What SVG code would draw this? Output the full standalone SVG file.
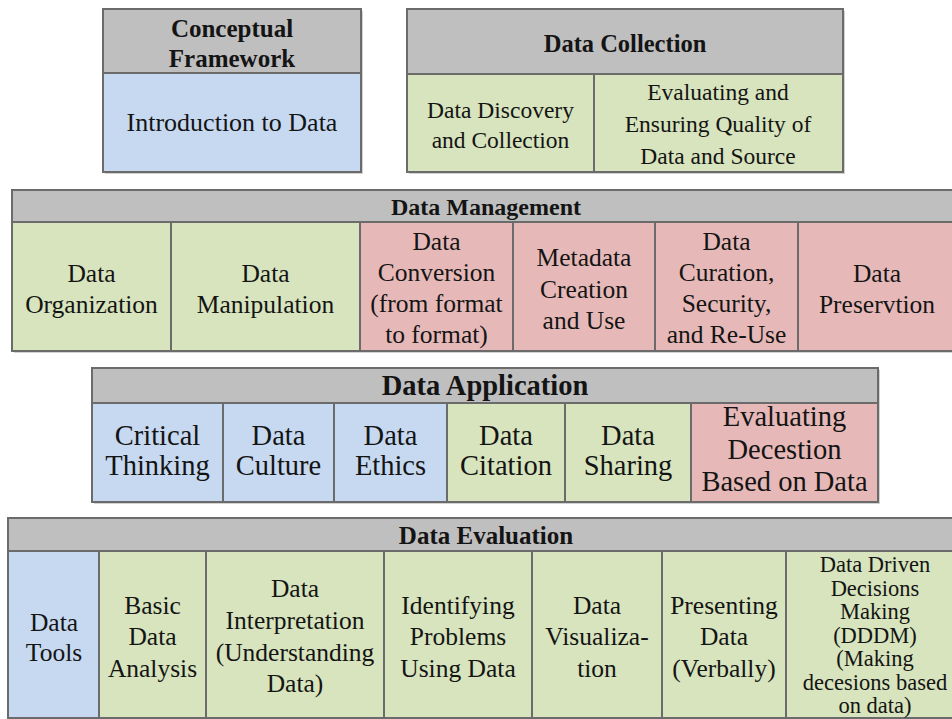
<svg xmlns="http://www.w3.org/2000/svg" width="952" height="719" viewBox="0 0 952 719">
<style>
.c{stroke:#6b6b6b;stroke-width:2}
.g{fill:#bfbfbf}.b{fill:#c6d9f1}.gr{fill:#d7e4bd}.p{fill:#e6b9b8}
.sh{fill:#d2d2d2}
text{font-family:'Liberation Serif', 'Times New Roman', serif;fill:#141414;text-anchor:middle}
.hb{font-weight:bold}
.t25{font-size:25.5px}
</style>
<rect width="952" height="719" fill="#ffffff"/>
<g id="shadows">
<rect class="sh" x="105" y="11" width="258" height="163"/>
<rect class="sh" x="409" y="11" width="436" height="163"/>
<rect class="sh" x="14" y="192" width="950" height="161"/>
<rect class="sh" x="94" y="370" width="786" height="134"/>
</g>
<g id="conceptual-framework">
<rect class="c g" x="103" y="9" width="258" height="64"/>
<text class="hb" font-size="25" x="232"><tspan x="232" y="37">Conceptual</tspan><tspan x="232" y="67">Framework</tspan></text>
</g>
<g id="introduction-to-data">
<rect class="c b" x="103" y="73" width="258" height="99"/>
<text font-size="26" x="232" y="131">Introduction to Data</text>
</g>
<g id="data-collection">
<rect class="c g" x="407" y="9" width="436" height="65"/>
<text class="hb" font-size="24.5" x="625" y="52">Data Collection</text>
</g>
<g id="data-discovery">
<rect class="c gr" x="407" y="74" width="187" height="98"/>
<text font-size="23.5"><tspan x="500.5" y="118">Data Discovery</tspan><tspan x="500.5" y="148">and Collection</tspan></text>
</g>
<g id="evaluating-quality">
<rect class="c gr" x="594" y="74" width="249" height="98"/>
<text font-size="23.5"><tspan x="718" y="100">Evaluating and</tspan><tspan x="718" y="132">Ensuring Quality of</tspan><tspan x="718" y="164">Data and Source</tspan></text>
</g>
<g id="data-management">
<rect class="c g" x="12" y="190" width="950" height="32"/>
<text class="hb" font-size="24" x="486" y="215">Data Management</text>
</g>
<g id="data-organization">
<rect class="c gr" x="12" y="222" width="159" height="129"/>
<text class="t25"><tspan x="91.5" y="282">Data</tspan><tspan x="91.5" y="313">Organization</tspan></text>
</g>
<g id="data-manipulation">
<rect class="c gr" x="171" y="222" width="189" height="129"/>
<text class="t25"><tspan x="265.5" y="282">Data</tspan><tspan x="265.5" y="313">Manipulation</tspan></text>
</g>
<g id="data-conversion">
<rect class="c p" x="360" y="222" width="153" height="129"/>
<text class="t25"><tspan x="436.5" y="250">Data</tspan><tspan x="436.5" y="281">Conversion</tspan><tspan x="436.5" y="312">(from format</tspan><tspan x="436.5" y="343">to format)</tspan></text>
</g>
<g id="metadata">
<rect class="c p" x="513" y="222" width="142" height="129"/>
<text class="t25"><tspan x="584" y="266">Metadata</tspan><tspan x="584" y="298">Creation</tspan><tspan x="584" y="329">and Use</tspan></text>
</g>
<g id="data-curation">
<rect class="c p" x="655" y="222" width="143" height="129"/>
<text class="t25"><tspan x="726.5" y="250">Data</tspan><tspan x="726.5" y="281">Curation,</tspan><tspan x="726.5" y="312">Security,</tspan><tspan x="726.5" y="343">and Re-Use</tspan></text>
</g>
<g id="data-preservation">
<rect class="c p" x="798" y="222" width="164" height="129"/>
<text class="t25"><tspan x="877" y="282">Data</tspan><tspan x="877" y="313">Preservtion</tspan></text>
</g>
<g id="data-application">
<rect class="c g" x="92" y="368" width="786" height="35"/>
<text class="hb" font-size="28.5" x="485" y="395">Data Application</text>
</g>
<g id="critical-thinking">
<rect class="c b" x="92" y="403" width="131" height="99"/>
<text font-size="28.5"><tspan x="157.5" y="445">Critical</tspan><tspan x="157.5" y="475">Thinking</tspan></text>
</g>
<g id="data-culture">
<rect class="c b" x="223" y="403" width="111" height="99"/>
<text font-size="28.5"><tspan x="278.5" y="445">Data</tspan><tspan x="278.5" y="475">Culture</tspan></text>
</g>
<g id="data-ethics">
<rect class="c b" x="334" y="403" width="113" height="99"/>
<text font-size="28.5"><tspan x="390.5" y="445">Data</tspan><tspan x="390.5" y="475">Ethics</tspan></text>
</g>
<g id="data-citation">
<rect class="c gr" x="447" y="403" width="118" height="99"/>
<text font-size="28.5"><tspan x="506" y="445">Data</tspan><tspan x="506" y="475">Citation</tspan></text>
</g>
<g id="data-sharing">
<rect class="c gr" x="565" y="403" width="126" height="99"/>
<text font-size="28.5"><tspan x="628" y="445">Data</tspan><tspan x="628" y="475">Sharing</tspan></text>
</g>
<g id="evaluating-decestion">
<rect class="c p" x="691" y="403" width="187" height="99"/>
<text font-size="28.5"><tspan x="784.5" y="426">Evaluating</tspan><tspan x="784.5" y="459">Decestion</tspan><tspan x="784.5" y="491">Based on Data</tspan></text>
</g>
<g id="data-evaluation">
<rect class="c g" x="8" y="518" width="960" height="33"/>
<text class="hb" font-size="25" x="486" y="544">Data Evaluation</text>
</g>
<g id="data-tools">
<rect class="c b" x="8" y="551" width="91" height="167"/>
<text class="t25"><tspan x="54" y="631">Data</tspan><tspan x="54" y="661">Tools</tspan></text>
</g>
<g id="basic-data-analysis">
<rect class="c gr" x="99" y="551" width="107" height="167"/>
<text class="t25"><tspan x="152.5" y="614">Basic</tspan><tspan x="152.5" y="645">Data</tspan><tspan x="152.5" y="677">Analysis</tspan></text>
</g>
<g id="data-interpretation">
<rect class="c gr" x="206" y="551" width="178" height="167"/>
<text class="t25"><tspan x="295" y="597">Data</tspan><tspan x="295" y="629">Interpretation</tspan><tspan x="295" y="661">(Understanding</tspan><tspan x="295" y="692">Data)</tspan></text>
</g>
<g id="identifying-problems">
<rect class="c gr" x="384" y="551" width="148" height="167"/>
<text class="t25"><tspan x="458" y="614">Identifying</tspan><tspan x="458" y="645">Problems</tspan><tspan x="458" y="677">Using Data</tspan></text>
</g>
<g id="data-visualization">
<rect class="c gr" x="532" y="551" width="130" height="167"/>
<text class="t25"><tspan x="597" y="614">Data</tspan><tspan x="597" y="645">Visualiza-</tspan><tspan x="597" y="677">tion</tspan></text>
</g>
<g id="presenting-data">
<rect class="c gr" x="662" y="551" width="124" height="167"/>
<text class="t25"><tspan x="724" y="614">Presenting</tspan><tspan x="724" y="645">Data</tspan><tspan x="724" y="677">(Verbally)</tspan></text>
</g>
<g id="dddm">
<rect class="c gr" x="786" y="551" width="182" height="167"/>
<text font-size="22.5"><tspan x="875" y="572">Data Driven</tspan><tspan x="875" y="595.5">Decisions</tspan><tspan x="875" y="619">Making</tspan><tspan x="875" y="642.5">(DDDM)</tspan><tspan x="875" y="666">(Making</tspan><tspan x="875" y="689.5">decesions based</tspan><tspan x="875" y="713">on data)</tspan></text>
</g>
<g id="connectors"/>
</svg>
